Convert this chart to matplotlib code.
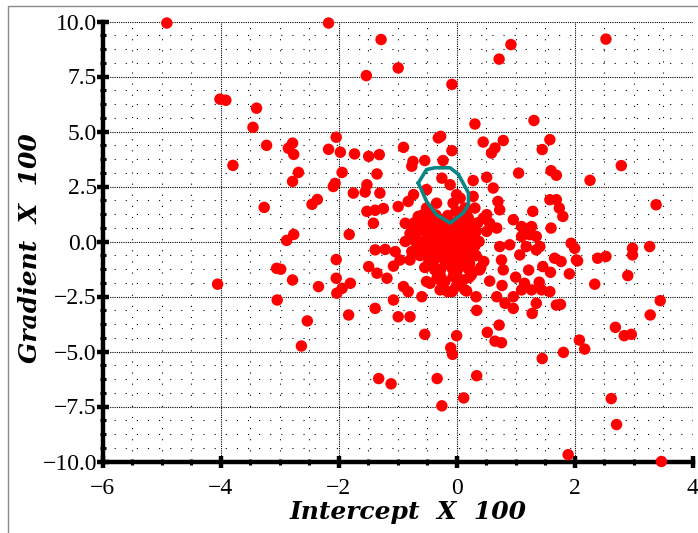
import matplotlib
matplotlib.use("Agg")
import matplotlib.pyplot as plt
from matplotlib.ticker import MultipleLocator, FuncFormatter
from matplotlib.patches import Rectangle

# ---- data (Intercept x100, Gradient x100) ----
outer_x = [-4.91, -2.17, -1.28, 2.53, 0.92, 0.72, -0.99, -1.53, -0.08, -4.01, -3.91, -3.39,
           -3.45, -3.22, -3.79, -3.26, -2.04, -2.17, -1.97, -2.78, -2.85, -2.76, -2.68, -2.78,
           -1.94, -2.06, -2.09, -2.36, -2.45, -2.76, -2.88, -1.82, -2.04, -3.05, -2.98, -2.78,
           -4.05, -2.34, -2.04, -2.03, -1.94, -3.04, -1.83, -2.53, -2.63]
outer_y = [9.93, 9.93, 9.18, 9.2, 8.95, 8.29, 7.89, 7.54, 7.14, 6.47, 6.42, 6.06,
           5.19, 4.37, 3.46, 1.55, 4.74, 4.19, 4.06, 4.47, 4.24, 3.96, 3.14, 2.73,
           3.14, 2.64, 2.5, 1.91, 1.69, 0.32, 0.05, 0.32, -0.82, -1.22, -1.26, -1.75,
           -1.94, -2.05, -1.67, -2.35, -2.13, -2.66, -3.34, -3.61, -4.75]

upper_x = [0.31, 1.31, -0.31, -0.27, 0.45, 0.79, 0.65, 0.59, 1.58, 1.45, -0.08, -0.90,
           -1.73, -1.49, -1.31, -0.74, -0.76, -0.54, -0.23, 2.79, 1.05, 1.60, 1.69, 2.26,
           -1.35, -0.25, -0.11, 0.28, 0.51, 0.62, -1.52, -1.55, -1.30, -1.75, -0.51, -0.73,
           -0.82, 0.00, 0.28, 1.58, 1.69, 1.74, 1.80, 3.38, 0.70, 0.73, 0.31, -0.99,
           -1.52, -1.38, -1.24, -0.34, -0.06, 1.29, 0.51, 0.45, 0.96, 1.60, 1.13, 1.24,
           -1.41, 1.94, 2.03, 2.39, 2.53, 2.98, 2.98, 3.27, -1.38, -1.21, -1.07]
upper_y = [5.34, 5.50, 4.71, 4.78, 4.52, 4.59, 4.25, 4.02, 4.63, 4.18, 4.13, 4.28,
           3.98, 3.87, 3.95, 3.64, 3.42, 3.68, 3.68, 3.45, 3.11, 3.22, 3.01, 2.78,
           3.07, 2.88, 2.58, 2.77, 2.92, 2.43, 2.58, 2.25, 2.20, 2.20, 2.36, 2.13,
           1.82, 2.13, 2.05, 1.90, 1.90, 1.52, 1.14, 1.67, 1.82, 1.44, 1.52, 1.59,
           1.37, 1.42, 1.50, 1.74, 1.74, 1.37, 1.22, 1.06, 0.99, 0.61, 0.61, 0.31,
           0.83, -0.08, -0.84, -0.76, -0.68, -0.31, -0.61, -0.23, -0.38, -0.36, -1.12]

mid_x = [0.56, 0.51, 0.68, 1.10, 1.27, 1.10, 1.35, 0.73, 0.90, 1.18, 1.41, 0.17, 0.11,
         -0.87, -0.51, 0.14, 0.20, -0.62, 0.06,
         -1.04, -0.68, -0.96, -0.79, -1.49, -1.35, -1.18, -1.80, -0.90, -0.82, -0.59,
         -1.07, -1.38, -0.99, -0.79, -0.37, -0.45, -0.28, -0.28, -0.08, 0.14, -0.51]
mid_y = [0.83, 0.46, 0.61, 0.68, 0.68, 0.23, 0.23, -0.23, -0.15, -0.23, -0.23, 0.00, 0.61,
         0.83, 1.52, 1.52, 1.06, -0.31, 1.97,
         -0.46, -0.38, -0.84, -0.84, -1.14, -1.44, -1.67, -1.90, -2.05, -2.28, -2.51,
         -2.66, -3.04, -3.42, -3.42, -1.29, -1.90, -1.75, -2.20, -2.28, -2.20, -1.82]

lower_x = [2.90, 2.34, 3.45, 3.28, 2.69, 2.84, 2.96, 2.08, 2.17, 1.81, 1.45, 2.62, 2.71,
           1.89, 3.47, 1.76, 1.69, 1.28, 1.35, 0.96, 0.82, 0.72, 0.52, 0.65, 0.76, 0.34,
           0.00, -0.10, -0.07, 0.34, -0.33, 0.12, -0.25, -1.32, -1.11, -0.54, 0.17, 0.33,
           0.77, 0.68, 0.03, 0.25, 0.56, 1.00, 1.22, 1.40, 1.58, 1.59, 1.91, 2.05,
           0.22, 0.39, 0.79, 0.76, 1.07, 1.35, 1.66, 1.77, 2.00, 1.46, 1.15, 1.44, 1.27,
           1.10, 0.96, 0.11, 0.06]
lower_y = [-1.55, -1.94, -2.69, -3.34, -3.90, -4.28, -4.22, -4.48, -4.89, -5.04, -5.32, -7.14, -8.32,
           -9.69, -10.0, -2.86, -2.89, -3.27, -2.81, -3.04, -2.81, -3.80, -4.13, -4.53, -4.60, -3.13,
           -4.28, -4.83, -5.13, -6.10, -6.23, -7.11, -7.47, -6.23, -6.47, -4.22, -2.25, -2.51,
           -2.00, -2.51, -1.06, -1.52, -1.80, -1.62, -1.30, -1.85, -2.28, -1.40, -1.47, -0.88,
           -0.99, -1.29, -1.29, -0.84, -0.61, -0.38, -0.76, -0.91, -0.31, -1.14, -1.90, -2.20, -2.20,
           -2.20, -2.51, -1.75, -0.68]

core_x = [-0.65, -0.54, -0.42, -0.28, -0.15, -0.01, 0.11, 0.22,
          -0.62, -0.48, -0.35, -0.21, -0.08, 0.06, 0.19, 0.33,
          -0.70, -0.57, -0.43, -0.30, -0.16, -0.03, 0.11, 0.24, 0.38,
          -0.62, -0.48, -0.35, -0.21, -0.08, 0.06, 0.19, 0.33, 0.46,
          -0.54, -0.40, -0.27, -0.13, 0.01, 0.14, 0.28, 0.41,
          -0.33, -0.20, -0.06, 0.07, 0.21, -0.15, -0.01,
          -0.79, -0.87, -0.76]
core_y = [1.14, 0.91, 1.28, 1.00, 1.18, 1.37, 1.00, 0.73,
          0.55, 0.36, 0.64, 0.46, 0.64, 0.36, 0.18, 0.46,
          0.00, -0.18, 0.09, -0.14, 0.09, -0.18, 0.00, -0.27, 0.00,
          -0.64, -0.46, -0.73, -0.50, -0.77, -0.55, -0.82, -0.64, -0.91,
          -1.18, -1.00, -1.28, -1.05, -1.32, -1.09, -1.37, -1.18,
          -1.64, -1.82, -1.59, -1.87, -1.64, -2.28, -2.05,
          0.36, 0.00, -0.46]

core2_x = [-0.58, -0.35, 0.05, 0.17,
           -0.72, -0.58, -0.45, -0.31, -0.18, -0.04, 0.09, 0.23, 0.36,
           -0.75, -0.55, -0.41, -0.28, -0.14, 0.00, 0.13, 0.27,
           -0.68, -0.50, -0.37, -0.23, -0.10, 0.04, 0.17, 0.31,
           -0.64, -0.50, -0.37, -0.23, -0.10, 0.04, 0.17, 0.31,
           -0.41, -0.28, -0.14, 0.00, 0.13, 0.27,
           -0.47, -0.20, -0.07, 0.07, 0.20,
           -0.34, -0.07, 0.20,
           -0.27, 0.00]
core2_y = [1.20, 1.20, 1.20, 1.20,
           0.85, 0.85, 0.85, 0.85, 0.85, 0.85, 0.85, 0.85, 0.85,
           0.50, 0.50, 0.50, 0.50, 0.50, 0.50, 0.50, 0.50,
           0.15, 0.15, 0.15, 0.15, 0.15, 0.15, 0.15, 0.15,
           -0.20, -0.20, -0.20, -0.20, -0.20, -0.20, -0.20, -0.20,
           -0.55, -0.55, -0.55, -0.55, -0.55, -0.55,
           -0.90, -0.90, -0.90, -0.90, -0.90,
           -1.25, -1.25, -1.25,
           -1.60, -1.60]

# teal contour
contour_x = [-0.65, -0.51, -0.37, -0.11, 0.03, 0.20, 0.20, 0.11, -0.11, -0.34, -0.51, -0.65]
contour_y = [2.66, 3.27, 3.35, 3.35, 3.05, 2.21, 1.68, 1.29, 0.84, 1.22, 1.83, 2.66]

xs = outer_x + upper_x + mid_x + lower_x + core_x + core2_x
ys = outer_y + upper_y + mid_y + lower_y + core_y + core2_y

# ---- figure ----
fig = plt.figure(figsize=(6.98, 5.33), dpi=100)
fig.patches.append(Rectangle((8/698, -0.1), 1.2, 1 - 6/533 + 0.1, transform=fig.transFigure,
                             fill=False, edgecolor="#8a8a8a", linewidth=1.0))
ax = fig.add_axes([102.5/698, (533-461.5)/533, (692.7-102.5)/698, (461.5-21.5)/533])
ax.set_xlim(-6, 4)
ax.set_ylim(-10, 10)

ax.xaxis.set_major_locator(MultipleLocator(2))
ax.xaxis.set_minor_locator(MultipleLocator(0.5))
ax.yaxis.set_major_locator(MultipleLocator(2.5))
ax.yaxis.set_minor_locator(MultipleLocator(0.625))

ax.grid(which="major", color="black", linestyle=(0, (1, 1)), linewidth=0.8)
ax.grid(which="minor", color="black", linestyle=(0, (1, 9)), linewidth=0.8)
ax.set_axisbelow(True)

for s in ("top", "right"):
    ax.spines[s].set_visible(False)
for s in ("left", "bottom"):
    ax.spines[s].set_linewidth(3.2)
    ax.spines[s].set_color("black")

ax.tick_params(which="major", direction="inout", length=8, width=3.2, color="black")
ax.tick_params(which="minor", direction="inout", length=4, width=2.2, color="black")
ax.tick_params(axis="x", which="major", pad=8)
ax.tick_params(axis="y", which="major", pad=0)

fmt_y = FuncFormatter(lambda v, p: ("%.1f" % v).replace("-", "\u2212"))
fmt_x = FuncFormatter(lambda v, p: ("%d" % round(v)).replace("-", "\u2212"))
ax.yaxis.set_major_formatter(fmt_y)
ax.xaxis.set_major_formatter(fmt_x)
for lab in ax.get_xticklabels() + ax.get_yticklabels():
    lab.set_fontfamily("Liberation Serif")
    lab.set_fontsize(17)

ax.scatter(xs, ys, s=68, color="#ff0000", edgecolors="none", zorder=4, clip_on=False)
ax.plot(contour_x, contour_y, color="#0b8585", linewidth=2.6, zorder=5)

ax.set_xlabel("Intercept  X  100", fontfamily="DejaVu Serif", fontweight="bold",
              fontstyle="italic", fontsize=18)
ax.set_ylabel("Gradient  X  100", fontfamily="DejaVu Serif", fontweight="bold",
              fontstyle="italic", fontsize=18)
ax.xaxis.set_label_coords(0.5176, -0.0875)
ax.yaxis.set_label_coords(-0.1025, 0.485)

fig.savefig("out.png", dpi=100)
